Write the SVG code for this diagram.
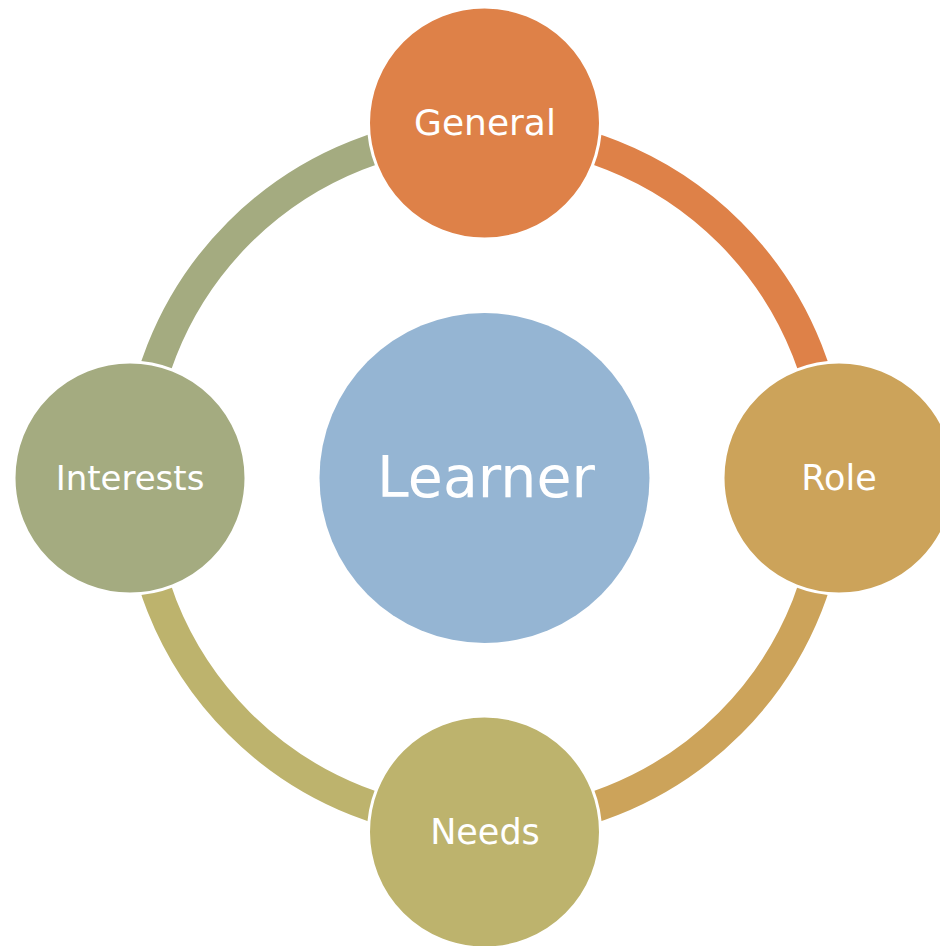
<svg xmlns="http://www.w3.org/2000/svg" width="940" height="946" viewBox="0 0 940 946">
<style>
.arc{fill:none;stroke-width:31}
.node{stroke:#ffffff;stroke-width:3}
.lbl{font-family:"DejaVu Sans",sans-serif;fill:#ffffff;text-anchor:middle}
</style>
<rect width="940" height="946" fill="#ffffff"/>
<g id="connectors">
<path class="arc" stroke="#DE8148" d="M 484.5 131 A 347 347 0 0 1 831.5 478"/>
<path class="arc" stroke="#CCA35A" d="M 831.5 478 A 347 347 0 0 1 484.5 825"/>
<path class="arc" stroke="#BDB36D" d="M 484.5 825 A 347 347 0 0 1 137.5 478"/>
<path class="arc" stroke="#A4AB80" d="M 137.5 478 A 347 347 0 0 1 484.5 131"/>
</g>
<g id="learner">
<circle cx="484.5" cy="478" r="165" fill="#95B5D3"/>
<text class="lbl" x="486" y="497" font-size="57">Learner</text>
</g>
<g id="general">
<circle class="node" cx="484.5" cy="123" r="116" fill="#DE8148"/>
<text class="lbl" x="485" y="135" font-size="36">General</text>
</g>
<g id="role">
<circle class="node" cx="839" cy="478" r="116" fill="#CCA35A"/>
<text class="lbl" x="839" y="490" font-size="35">Role</text>
</g>
<g id="needs">
<circle class="node" cx="484.5" cy="832" r="116" fill="#BDB36D"/>
<text class="lbl" x="485" y="844" font-size="35">Needs</text>
</g>
<g id="interests">
<circle class="node" cx="130" cy="478" r="116" fill="#A4AB80"/>
<text class="lbl" x="130" y="490" font-size="34">Interests</text>
</g>
</svg>
